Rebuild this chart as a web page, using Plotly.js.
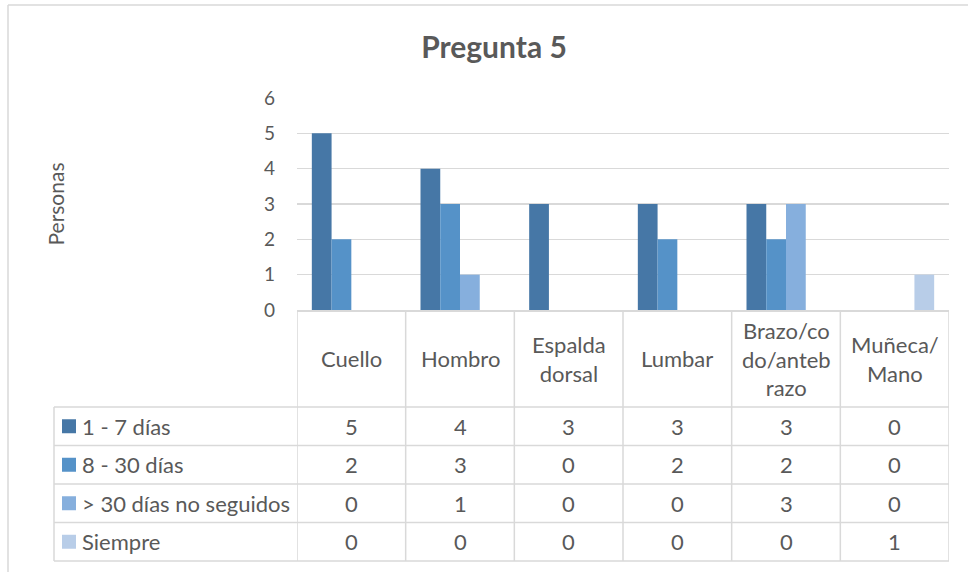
<!DOCTYPE html>
<html>
<head>
<meta charset="utf-8">
<script src="https://cdn.plot.ly/plotly-3.0.1.min.js"></script>
<style>html,body{margin:0;padding:0;background:#fff;}#chart{width:968px;height:572px;}</style>
</head>
<body>
<div id="chart"></div>
<script>
// ---- data ----
const categories = ['Cuello', 'Hombro', 'Espalda dorsal', 'Lumbar', 'Brazo/codo/antebrazo', 'Muñeca/Mano'];
const categoryLabels = ['Cuello', 'Hombro', 'Espalda<br>dorsal', 'Lumbar', 'Brazo/co<br>do/anteb<br>razo', 'Muñeca/<br>Mano'];
const seriesNames = ['1 - 7 días', '8 - 30 días', '> 30 días no seguidos', 'Siempre'];
const dias1a7 = [5, 4, 3, 3, 3, 0];
const dias8a30 = [2, 3, 0, 2, 2, 0];
const mas30NoSeguidos = [0, 1, 0, 0, 3, 0];
const siempre = [0, 0, 0, 0, 0, 1];
const yTickVals = [0, 1, 2, 3, 4, 5, 6];
const chartTitle = 'Pregunta 5';
const yTitle = 'Personas';

// ---- style ----
const seriesValues = [dias1a7, dias8a30, mas30NoSeguidos, siempre];
const colors = ['#4677A6', '#5592C8', '#86AFDD', '#B8CDE8'];
const FONT = 'Lato, "Open Sans", sans-serif';
const TXT = '#595959';
const LINE = '#D9D9D9';
const TABLE_SIZE = 22;

const W = 968, H = 572;
const L = 297, R = 949, T = 98, B = 310;
const px = x => (x - L) / (R - L);
const py = y => (B - y) / (B - T);

const headerBottom = 407;
const rowEdges = [407, 445.5, 484, 522.5, 561];
const legendLeft = 54;

const traces = seriesNames.map((n, i) => ({
  type: 'bar', name: n, x: categories, y: seriesValues[i],
  marker: {color: colors[i]}, showlegend: false, hoverinfo: 'x+y+name'
}));

const shapes = [];
const annotations = [];
// outer chart border (left & top)
shapes.push({type: 'line', xref: 'paper', yref: 'paper', x0: px(8), x1: px(8), y0: py(5), y1: py(575), line: {color: LINE, width: 1.5}});
shapes.push({type: 'line', xref: 'paper', yref: 'paper', x0: px(8), x1: px(970), y0: py(5), y1: py(5), line: {color: LINE, width: 1.5}});
// table vertical lines at category boundaries
for (let i = 0; i <= categories.length; i++) {
  shapes.push({type: 'line', xref: 'x', yref: 'paper', x0: i - 0.5, x1: i - 0.5, y0: py(B), y1: py(rowEdges[rowEdges.length - 1]), line: {color: LINE, width: 1.5}});
}
// legend column left line
shapes.push({type: 'line', xref: 'paper', yref: 'paper', x0: px(legendLeft), x1: px(legendLeft), y0: py(rowEdges[0]), y1: py(rowEdges[rowEdges.length - 1]), line: {color: LINE, width: 1.5}});
// horizontal row lines
rowEdges.forEach(y => {
  shapes.push({type: 'line', xref: 'paper', yref: 'paper', x0: px(legendLeft), x1: 1, y0: py(y), y1: py(y), line: {color: LINE, width: 1.5}});
});
// category header labels
categoryLabels.forEach((c, i) => {
  annotations.push({xref: 'x', yref: 'paper', x: categories[i], y: py((B + headerBottom) / 2), text: c, showarrow: false,
    xanchor: 'center', yanchor: 'middle', align: 'center', font: {family: FONT, size: TABLE_SIZE, color: TXT}});
});
// rows: legend keys, names, values
seriesNames.forEach((n, r) => {
  const yc = (rowEdges[r] + rowEdges[r + 1]) / 2;
  shapes.push({type: 'rect', xref: 'paper', yref: 'paper', x0: px(62), x1: px(76), y0: py(yc - 7), y1: py(yc + 7), line: {width: 0}, fillcolor: colors[r]});
  annotations.push({xref: 'paper', yref: 'paper', x: px(80), y: py(yc), text: n, showarrow: false, xanchor: 'left', yanchor: 'middle',
    font: {family: FONT, size: TABLE_SIZE, color: TXT}});
  seriesValues[r].forEach((v, i) => {
    annotations.push({xref: 'x', yref: 'paper', x: categories[i], y: py(yc), text: String(v), showarrow: false, xanchor: 'center', yanchor: 'middle',
      font: {family: FONT, size: TABLE_SIZE, color: TXT}});
  });
});

const layout = {
  width: W, height: H,
  margin: {l: L, r: W - R, t: T, b: H - B, pad: 0},
  paper_bgcolor: '#fff', plot_bgcolor: '#fff',
  title: {text: '<b>' + chartTitle + '</b>', xref: 'container', yref: 'container', x: 494 / W, y: 1 - 47 / H, xanchor: 'center', yanchor: 'middle',
    font: {family: FONT, size: 30, color: TXT}},
  barmode: 'group', bargap: 0.273, bargroupgap: 0,
  xaxis: {type: 'category', range: [-0.5, categories.length - 0.5], showticklabels: false, showgrid: false, zeroline: false,
    showline: true, linecolor: LINE, linewidth: 1.5, ticks: '', fixedrange: true},
  yaxis: {range: [0, 6], tickvals: yTickVals, showgrid: true, gridcolor: LINE, gridwidth: 1.3, zeroline: false, showline: false, ticks: '',
    ticklabelstandoff: 21, tickfont: {family: FONT, size: 19, color: TXT},
    title: {text: yTitle, standoff: 193, font: {family: FONT, size: 21, color: TXT}}, fixedrange: true},
  shapes: shapes, annotations: annotations, showlegend: false
};

Plotly.newPlot('chart', traces, layout, {displayModeBar: false, staticPlot: true});
</script>
</body>
</html>
